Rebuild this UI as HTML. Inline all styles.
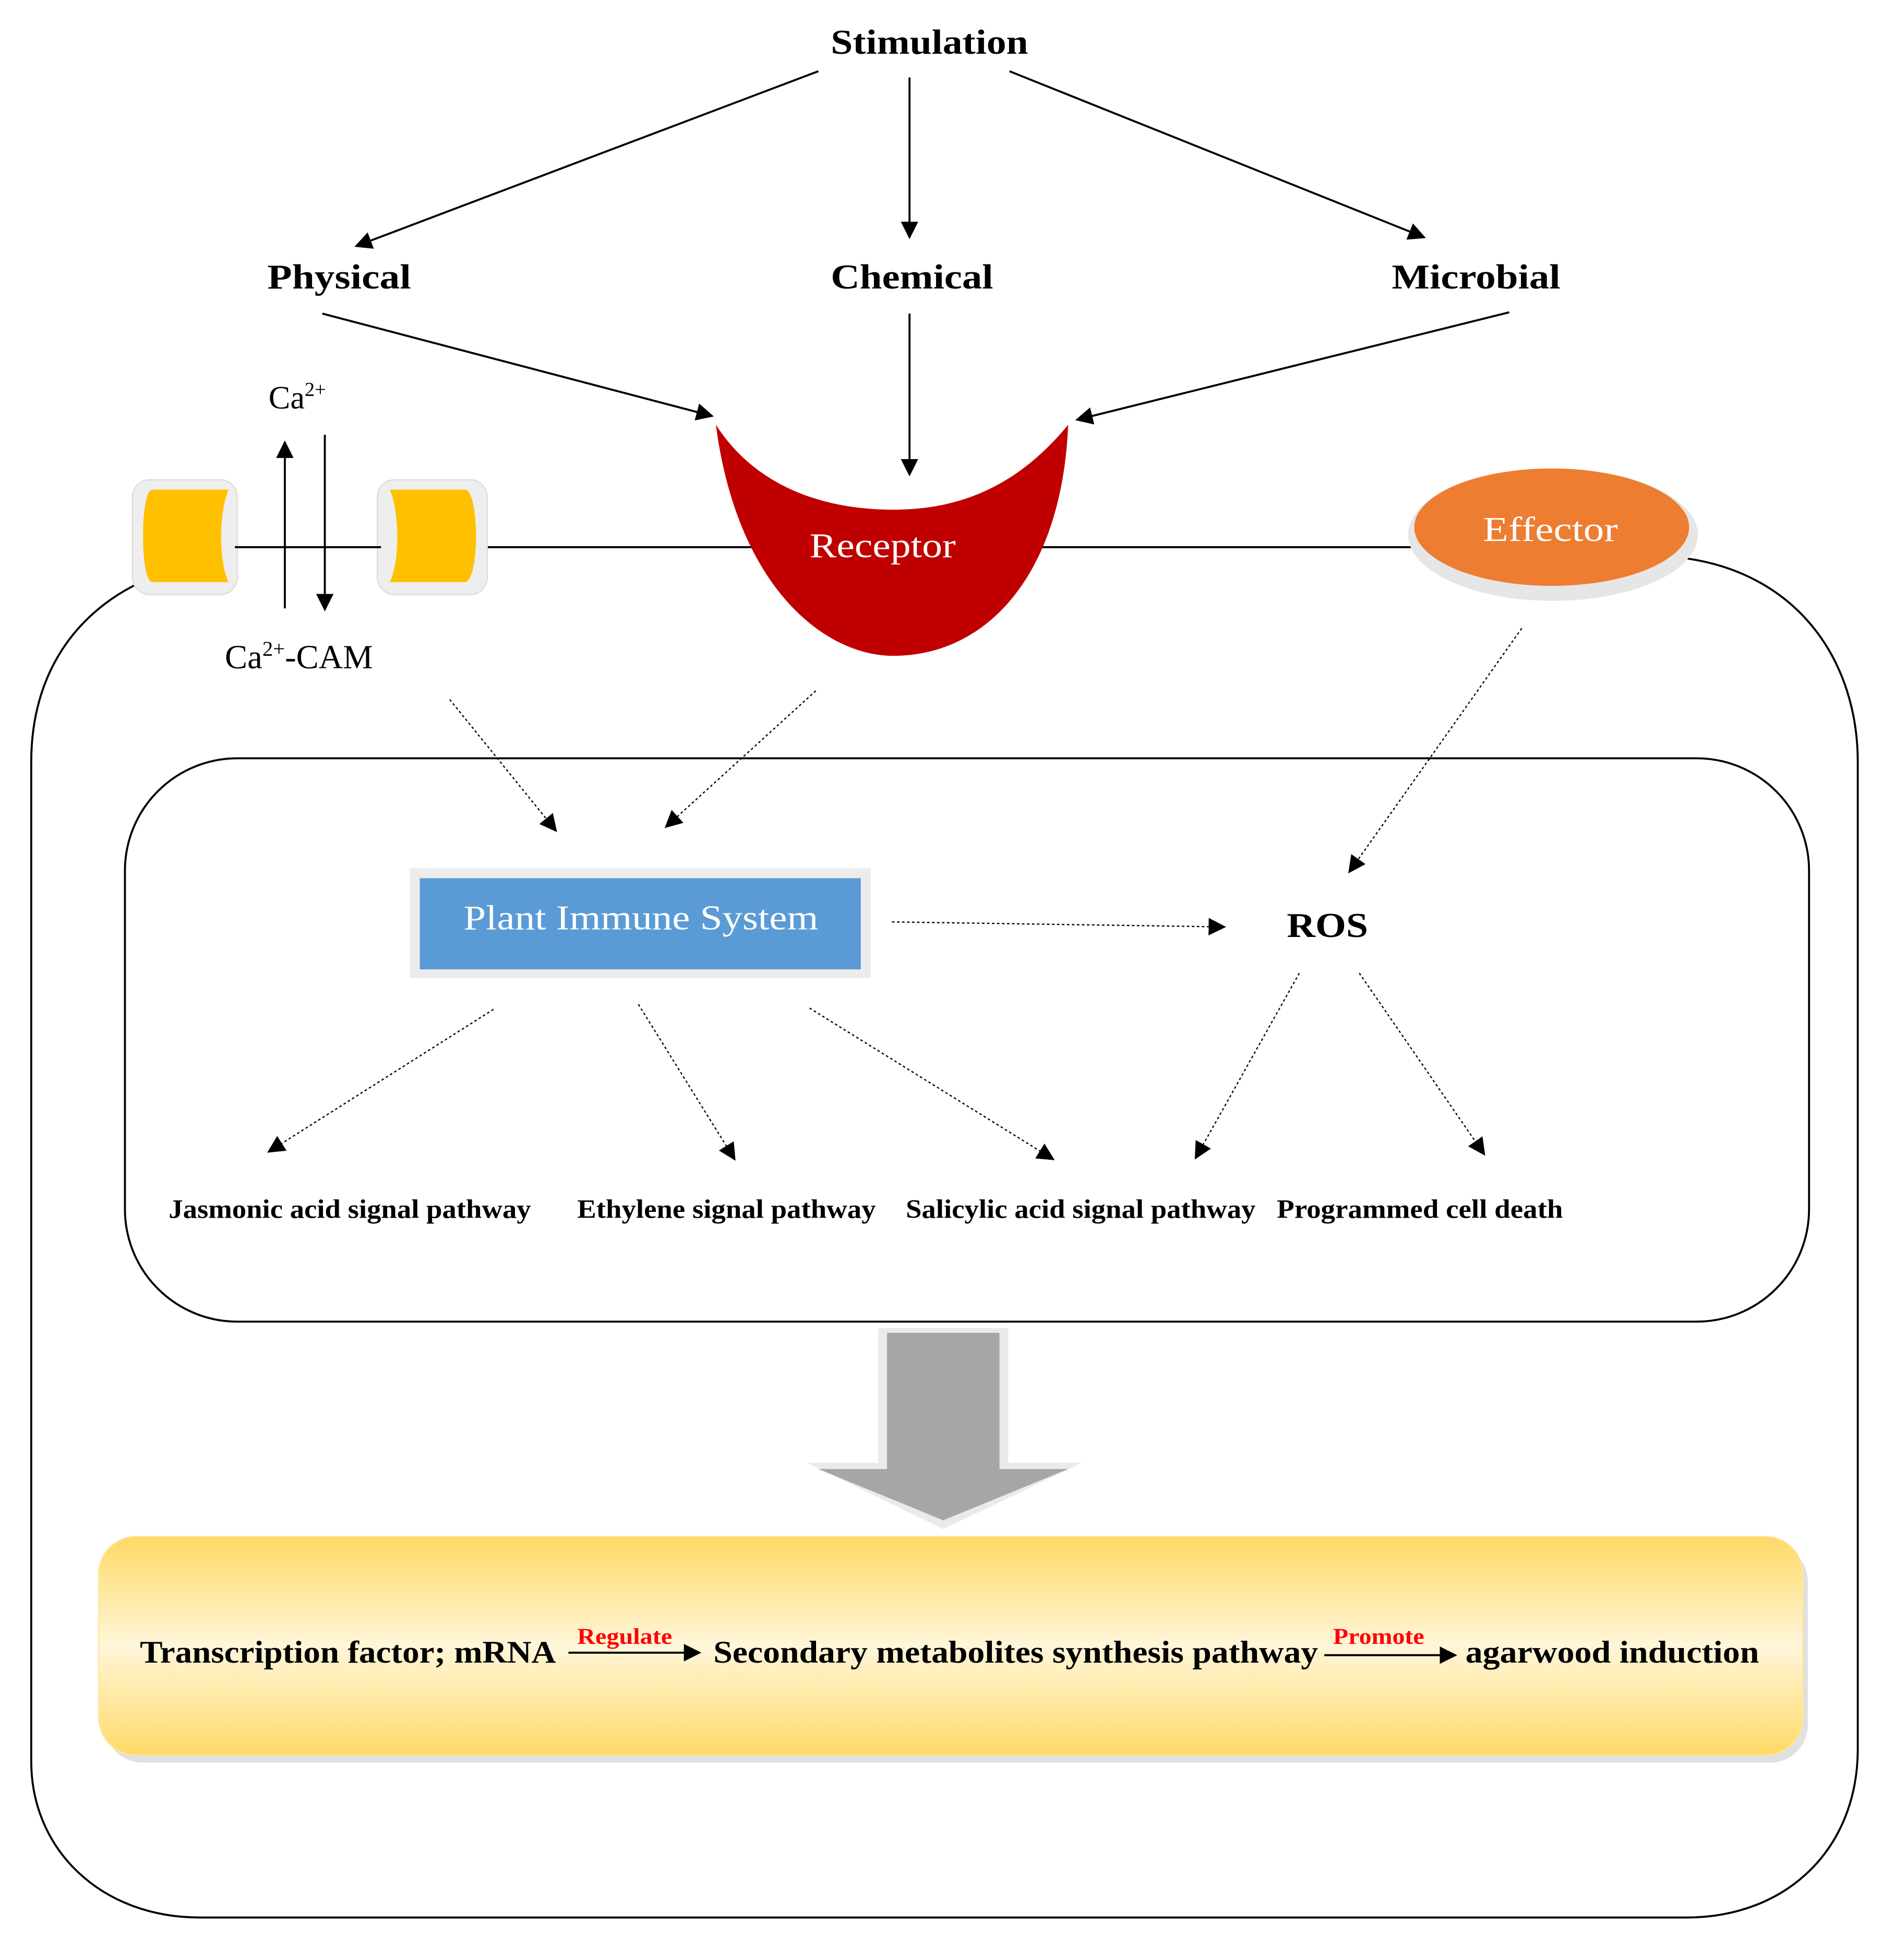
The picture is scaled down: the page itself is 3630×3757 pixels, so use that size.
<!DOCTYPE html>
<html><head><meta charset="utf-8"><style>
html,body{margin:0;padding:0;background:#fff;}
svg{display:block;}
text{font-family:"Liberation Serif",serif;}
</style></head><body>
<svg width="3630" height="3757" viewBox="0 0 1516 1569" xmlns="http://www.w3.org/2000/svg">
<defs>
<marker id="ah2" viewBox="0 0 10 10" refX="9" refY="5" markerWidth="14" markerHeight="14" orient="auto" markerUnits="userSpaceOnUse"><path d="M0,0 L10,5 L0,10 z" fill="#000"/></marker>
<linearGradient id="yg" x1="0" y1="0" x2="0" y2="1">
<stop offset="0" stop-color="#FFD966"/><stop offset="0.5" stop-color="#FFF6DA"/><stop offset="1" stop-color="#FFD966"/></linearGradient>
</defs>

<text x="665" y="43" font-size="28" font-weight="bold" textLength="158" lengthAdjust="spacingAndGlyphs">Stimulation</text>
<g stroke="#000" stroke-width="1.6" fill="none">
<line x1="655" y1="57" x2="285" y2="197" marker-end="url(#ah2)"/>
<line x1="728" y1="62" x2="728" y2="190" marker-end="url(#ah2)"/>
<line x1="808" y1="57" x2="1140" y2="190" marker-end="url(#ah2)"/>
<line x1="258" y1="251" x2="570" y2="333" marker-end="url(#ah2)"/>
<line x1="728" y1="251" x2="728" y2="380" marker-end="url(#ah2)"/>
<line x1="1208" y1="250" x2="862" y2="336" marker-end="url(#ah2)"/>
</g>
<text x="214" y="231" font-size="28" font-weight="bold" textLength="115" lengthAdjust="spacingAndGlyphs">Physical</text>
<text x="665" y="231" font-size="28" font-weight="bold" textLength="130" lengthAdjust="spacingAndGlyphs">Chemical</text>
<text x="1114" y="231" font-size="28" font-weight="bold" textLength="135" lengthAdjust="spacingAndGlyphs">Microbial</text>

<path d="M115,465 C60,490 25,540 25,610 L25,1410 C25,1480 80,1535 160,1535 L1350,1535 C1430,1535 1487,1480 1487,1400 L1487,610 C1487,530 1440,460 1350,447" fill="none" stroke="#000" stroke-width="1.6"/>
<line x1="385" y1="438" x2="1135" y2="438" stroke="#000" stroke-width="1.6"/>

<rect x="106" y="384" width="84" height="92" rx="14" fill="#eee" stroke="#ddd"/>
<rect x="302" y="384" width="88" height="92" rx="14" fill="#eee" stroke="#ddd"/>
<path d="M122,392 L183,392 C175,410 175,450 183,466 L122,466 C112,466 112,392 122,392 Z" fill="#FFC000"/>
<path d="M312,392 L372,392 C384,392 384,466 372,466 L312,466 C320,450 320,410 312,392 Z" fill="#FFC000"/>
<line x1="188" y1="438" x2="305" y2="438" stroke="#000" stroke-width="1.6"/>
<line x1="228" y1="487" x2="228" y2="354" stroke="#000" stroke-width="1.6" marker-end="url(#ah2)"/>
<line x1="260" y1="348" x2="260" y2="488" stroke="#000" stroke-width="1.6" marker-end="url(#ah2)"/>
<text x="215" y="327" font-size="26">Ca<tspan font-size="16" dy="-10">2+</tspan></text>
<text x="180" y="535" font-size="27">Ca<tspan font-size="17" dy="-10">2+</tspan><tspan dy="10">-CAM</tspan></text>

<path d="M573,340 C590,470 660,525 715,525 C790,525 850,460 855,340 C810,395 760,408 715,408 C660,408 605,390 573,340 Z" fill="#C00000"/>
<text x="648" y="446" font-size="28" fill="#fff" textLength="117" lengthAdjust="spacingAndGlyphs">Receptor</text>

<ellipse cx="1243" cy="428" rx="116" ry="53" fill="#e6e6e6"/>
<ellipse cx="1242" cy="422" rx="110" ry="47" fill="#ED7D31"/>
<text x="1187" y="433" font-size="28" fill="#fff" textLength="108" lengthAdjust="spacingAndGlyphs">Effector</text>

<rect x="100" y="607" width="1348" height="451" rx="90" fill="none" stroke="#000" stroke-width="1.6"/>

<g stroke="#000" stroke-width="1" stroke-dasharray="2,2" fill="none">
<line x1="360" y1="560" x2="445" y2="665" marker-end="url(#ah2)"/>
<line x1="653" y1="553" x2="533" y2="662" marker-end="url(#ah2)"/>
<line x1="1218" y1="503" x2="1080" y2="698" marker-end="url(#ah2)"/>
<line x1="714" y1="738" x2="980" y2="742" marker-end="url(#ah2)"/>
<line x1="395" y1="808" x2="215" y2="922" marker-end="url(#ah2)"/>
<line x1="511" y1="804" x2="588" y2="928" marker-end="url(#ah2)"/>
<line x1="648" y1="807" x2="843" y2="928" marker-end="url(#ah2)"/>
<line x1="1040" y1="779" x2="957" y2="927" marker-end="url(#ah2)"/>
<line x1="1088" y1="779" x2="1188" y2="924" marker-end="url(#ah2)"/>
</g>

<rect x="328" y="695" width="369" height="88" fill="#ececec"/>
<rect x="336" y="703" width="353" height="73" fill="#5B9BD5"/>
<text x="371" y="744" font-size="28" fill="#fff" textLength="284" lengthAdjust="spacingAndGlyphs">Plant Immune System</text>
<text x="1030" y="750" font-size="28" font-weight="bold" textLength="65" lengthAdjust="spacingAndGlyphs">ROS</text>

<g font-size="21" font-weight="bold">
<text x="135" y="975" textLength="290" lengthAdjust="spacingAndGlyphs">Jasmonic acid signal pathway</text>
<text x="462" y="975" textLength="239" lengthAdjust="spacingAndGlyphs">Ethylene signal pathway</text>
<text x="725" y="975" textLength="280" lengthAdjust="spacingAndGlyphs">Salicylic acid signal pathway</text>
<text x="1022" y="975" textLength="229" lengthAdjust="spacingAndGlyphs">Programmed cell death</text>
</g>

<path d="M703,1063 L807,1063 L807,1171 L866,1171 L755,1224 L646,1171 L703,1171 Z" fill="#eaeaea"/>
<path d="M710,1067 L800,1067 L800,1176 L855,1176 L755,1217 L655,1176 L710,1176 Z" fill="#A6A6A6"/>

<rect x="84" y="1236" width="1363" height="175" rx="30" fill="#ccc" opacity="0.6"/>
<rect x="79" y="1230" width="1364" height="175" rx="30" fill="url(#yg)" stroke="#FFE699" stroke-width="1"/>
<g font-size="25" font-weight="bold">
<text x="112" y="1331" textLength="333" lengthAdjust="spacingAndGlyphs">Transcription factor; mRNA</text>
<text x="571" y="1331" textLength="484" lengthAdjust="spacingAndGlyphs">Secondary metabolites synthesis  pathway</text>
<text x="1173" y="1331" textLength="235" lengthAdjust="spacingAndGlyphs">agarwood induction</text>
</g>
<line x1="455" y1="1323" x2="560" y2="1323" stroke="#000" stroke-width="1.6" marker-end="url(#ah2)"/>
<line x1="1060" y1="1325" x2="1165" y2="1325" stroke="#000" stroke-width="1.6" marker-end="url(#ah2)"/>
<text x="462" y="1316" font-size="18" font-weight="bold" fill="#FF0000" textLength="76" lengthAdjust="spacingAndGlyphs">Regulate</text>
<text x="1067" y="1316" font-size="18" font-weight="bold" fill="#FF0000" textLength="73" lengthAdjust="spacingAndGlyphs">Promote</text>
</svg>
</body></html>
